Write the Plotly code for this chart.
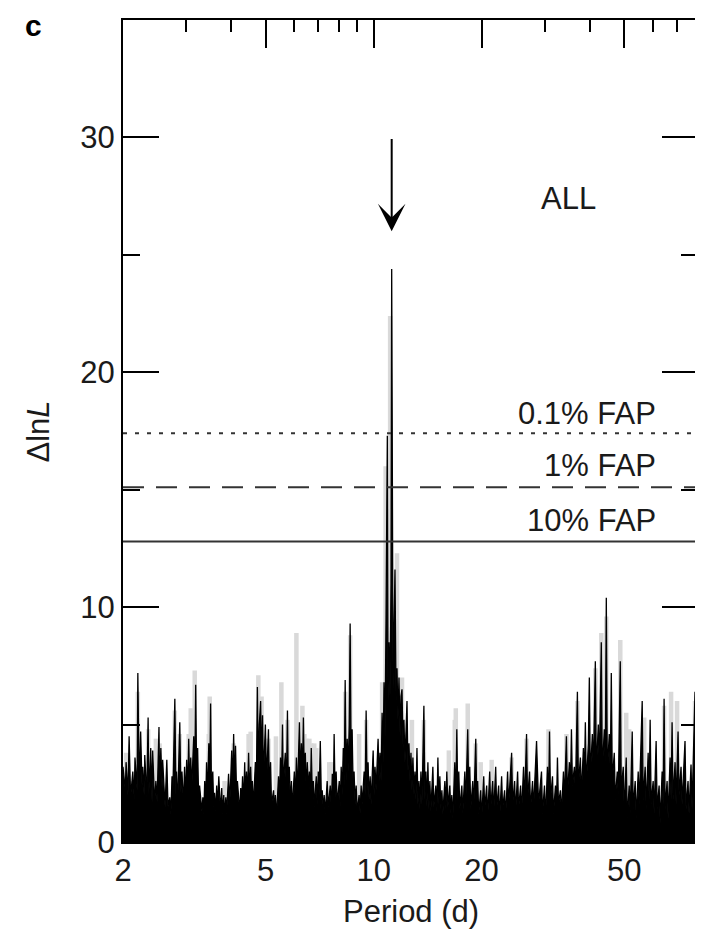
import math
import plotly.graph_objects as go

# ---------------- black periodogram (ALL) ----------------
period_a = [2.00, 2.03, 2.04, 2.065, 2.08, 2.10, 2.13, 2.15, 2.16, 2.19,
            2.20, 2.22, 2.24, 2.26, 2.27, 2.29, 2.30, 2.33, 2.35, 2.36,
            2.39, 2.41, 2.42, 2.45, 2.47, 2.49, 2.52, 2.53, 2.55, 2.57,
            2.58, 2.62, 2.65, 2.67, 2.70, 2.72, 2.74, 2.75, 2.79, 2.81,
            2.82, 2.84, 2.88, 2.90, 2.92, 2.95, 2.97, 2.99, 3.01, 3.03,
            3.05, 3.07, 3.09, 3.11, 3.15, 3.17, 3.19, 3.21, 3.23, 3.25,
            3.27, 3.32, 3.34, 3.36, 3.38, 3.40, 3.42, 3.44, 3.47, 3.49,
            3.51, 3.53, 3.56, 3.58, 3.60, 3.63, 3.65, 3.67, 3.70, 3.74,
            3.77, 3.79, 3.82, 3.84, 3.87, 3.89, 3.94, 3.97, 4.02, 4.04,
            4.07, 4.10, 4.12, 4.15, 4.17, 4.23, 4.26, 4.28, 4.31, 4.34,
            4.37, 4.39, 4.42, 4.45, 4.48, 4.51]
dlnl_a = [3.2, 2.2, 3.4, 2.0, 4.5, 1.9, 3.0, 1.8, 3.6, 2.2,
          7.2, 2.3, 4.7, 2.4, 3.2, 2.0, 3.7, 1.9, 5.3, 2.0,
          4.0, 1.7, 3.9, 1.6, 2.6, 1.7, 4.9, 2.2, 4.0, 2.3,
          3.5, 1.5, 3.5, 1.5, 1.9, 1.2, 2.8, 1.5, 6.1, 2.0,
          3.0, 1.5, 5.1, 2.1, 3.0, 1.6, 3.2, 1.8, 3.5, 2.0,
          4.4, 2.2, 3.6, 2.3, 4.5, 2.5, 6.7, 2.6, 4.0, 1.9,
          2.4, 1.3, 1.9, 1.2, 2.6, 1.4, 3.4, 1.8, 4.2, 2.1,
          5.9, 2.1, 3.0, 1.5, 2.1, 1.3, 2.4, 1.4, 2.8, 1.3,
          2.3, 1.2, 2.0, 1.1, 1.9, 1.2, 2.9, 1.6, 3.9, 2.0,
          4.6, 2.2, 4.1, 1.8, 2.6, 1.3, 2.3, 1.4, 2.8, 1.6,
          3.4, 1.8, 3.0, 1.9, 3.8, 2.0]

period_b = [4.54, 4.57, 4.59, 4.62, 4.68, 4.71, 4.74, 4.77, 4.80, 4.84,
            4.87, 4.90, 4.93, 4.99, 5.03, 5.09, 5.12, 5.16, 5.19, 5.26,
            5.29, 5.32, 5.36, 5.43, 5.46, 5.50, 5.53, 5.57, 5.60, 5.67,
            5.71, 5.75, 5.78, 5.82, 5.86, 5.90, 5.93, 6.01, 6.05, 6.09,
            6.13, 6.21, 6.25, 6.29, 6.33, 6.37, 6.41, 6.45, 6.49, 6.53,
            6.58, 6.62, 6.66, 6.70, 6.75, 6.79, 6.83, 6.92, 6.96, 7.01,
            7.05, 7.10, 7.15, 7.19, 7.24, 7.28, 7.33, 7.42, 7.47, 7.57,
            7.62, 7.67, 7.72, 7.76, 7.81, 7.86, 7.92, 8.02, 8.07, 8.12,
            8.17, 8.23, 8.28, 8.33, 8.38, 8.44, 8.49, 8.55, 8.60, 8.66,
            8.71, 8.77, 8.82, 8.88, 8.94, 9.00, 9.11, 9.17, 9.23, 9.29,
            9.41, 9.47, 9.53, 9.59, 9.65, 9.71, 9.78, 9.84, 9.97, 10.03,
            10.09, 10.16, 10.29, 10.36]
dlnl_b = [3.2, 1.8, 2.6, 1.5, 3.4, 2.4, 6.6, 3.0, 5.0, 6.0,
          3.2, 5.4, 2.8, 5.0, 2.6, 4.8, 2.2, 3.4, 1.6, 2.2,
          1.2, 2.0, 1.1, 2.8, 1.6, 3.6, 2.0, 5.0, 2.4, 3.8,
          2.2, 5.6, 2.4, 3.2, 1.6, 2.6, 1.4, 3.0, 1.7, 3.6,
          2.0, 5.1, 2.6, 4.2, 2.8, 5.3, 2.6, 3.8, 2.0, 3.4,
          2.2, 3.0, 1.8, 4.0, 1.8, 2.6, 1.5, 2.8, 1.6, 3.0,
          2.0, 4.3, 1.8, 2.2, 1.3, 2.0, 1.2, 2.6, 1.5, 2.4,
          1.4, 2.9, 1.7, 4.6, 1.9, 3.0, 1.6, 2.6, 1.5, 3.2,
          2.0, 4.0, 2.4, 6.9, 2.6, 4.4, 3.0, 5.0, 9.3, 3.0,
          4.8, 2.2, 3.0, 1.6, 2.4, 1.3, 2.0, 1.2, 2.4, 1.6,
          3.0, 2.0, 5.6, 2.2, 3.4, 1.8, 2.8, 1.6, 3.9, 2.0,
          3.2, 2.2, 4.4, 2.6]

period_c = [10.42, 10.49, 10.56, 10.63, 10.69, 10.76, 10.83, 10.92, 10.97, 11.04,
            11.11, 11.18, 11.23, 11.33, 11.40, 11.47, 11.55, 11.62, 11.69, 11.77,
            11.85, 11.92, 12.00, 12.08, 12.15, 12.23, 12.39, 12.47, 12.55, 12.63,
            12.71, 12.79, 12.87, 12.96, 13.04, 13.12, 13.21, 13.29, 13.38, 13.46,
            13.55, 13.64, 13.81, 13.90, 13.99, 14.08, 14.17, 14.26, 14.35, 14.44,
            14.63, 14.72, 14.91, 15.01, 15.11, 15.20]
dlnl_c = [3.8, 2.6, 5.5, 3.4, 6.8, 4.5, 9.6, 17.3, 6.0, 8.5,
          6.2, 11.0, 24.4, 6.5, 9.0, 11.6, 6.0, 7.4, 5.2, 7.0,
          4.5, 6.2, 6.5, 4.0, 5.2, 3.4, 6.0, 3.0, 4.2, 2.6,
          3.8, 2.2, 3.6, 2.0, 3.0, 1.8, 4.0, 1.6, 2.6, 1.4,
          3.0, 1.6, 5.8, 1.8, 3.0, 1.5, 3.4, 1.4, 2.6, 1.3,
          3.2, 1.5, 2.4, 1.3, 3.6, 1.6]

period_d = [15.30, 15.40, 15.50, 15.60, 15.80, 15.90, 16.00, 16.11, 16.31, 16.42,
            16.52, 16.63, 16.84, 16.95, 17.06, 17.17, 17.28, 17.39, 17.62, 17.73,
            17.96, 18.07, 18.30, 18.42, 18.54, 18.66, 18.90, 19.02, 19.27, 19.39,
            19.51, 19.64, 19.89, 20.02, 20.28, 20.41, 20.67, 20.80, 21.07, 21.21,
            21.48, 21.62, 21.90, 22.04, 22.32, 22.47, 22.75, 22.90, 23.19, 23.34,
            23.64, 23.80, 24.26, 24.42, 24.73, 24.89, 25.21, 25.37, 25.70, 25.86,
            26.19, 26.36, 26.70, 26.87, 27.22, 27.40, 27.75, 27.93, 28.47, 28.84]
dlnl_d = [2.8, 1.4, 2.2, 1.2, 2.6, 1.4, 3.0, 1.5, 2.4, 1.2,
          2.0, 1.0, 3.4, 1.6, 4.8, 1.8, 3.0, 1.4, 2.4, 1.2,
          3.0, 1.6, 4.8, 2.0, 3.2, 1.4, 2.6, 1.4, 4.4, 1.8,
          2.6, 1.2, 2.2, 1.0, 2.8, 1.4, 2.4, 1.0, 3.0, 1.4,
          2.6, 1.2, 3.2, 1.4, 2.4, 1.0, 2.8, 1.4, 2.2, 1.0,
          3.0, 1.6, 3.8, 1.6, 2.6, 1.2, 3.0, 1.4, 2.4, 1.2,
          3.2, 1.6, 4.6, 1.8, 3.0, 1.4, 2.6, 1.4, 4.3, 1.6]

period_e = [29.39, 29.58, 29.96, 30.16, 30.54, 30.74, 30.94, 31.14, 31.54, 31.74,
            32.15, 32.35, 32.56, 32.77, 33.19, 33.41, 33.84, 34.05, 34.49, 34.71,
            35.16, 35.39, 35.62, 35.85, 36.30, 36.54, 37.01, 37.25, 37.73, 37.97,
            38.46, 38.70, 38.95, 39.20, 39.71, 39.96, 40.22, 40.74, 41.00, 41.53,
            41.79, 42.33, 42.60, 43.15, 43.43, 43.99, 44.27, 44.56, 44.84, 45.42,
            45.71, 46.01, 46.31, 46.90, 47.20, 47.81, 48.12, 48.74, 49.05, 49.68,
            50.00, 50.64, 50.97, 51.62, 51.96, 52.63, 52.96, 53.64, 53.99, 54.69,
            55.04, 56.11, 56.46, 57.19, 57.56, 58.30, 58.67, 59.05, 59.43, 60.20,
            60.58, 61.36, 61.76, 62.55, 62.96, 63.77, 64.17, 64.58, 65.00, 65.84,
            66.26, 67.12, 67.55, 67.98, 68.41, 69.30, 69.74, 70.64, 71.09, 72.01,
            72.48, 73.87, 74.35, 75.31, 75.79, 76.77, 77.27, 78.76, 79.26, 80.29]
dlnl_e = [3.0, 1.2, 2.4, 1.0, 3.2, 1.4, 4.7, 1.8, 2.8, 1.2,
          2.4, 1.4, 3.6, 1.6, 2.2, 1.2, 3.0, 1.8, 4.5, 2.0,
          3.4, 2.2, 4.8, 2.4, 3.2, 2.0, 6.4, 2.4, 3.6, 2.0,
          4.0, 2.6, 5.1, 2.4, 4.2, 7.0, 2.8, 4.6, 3.0, 7.7,
          3.0, 5.0, 3.2, 8.5, 3.0, 4.8, 3.4, 10.4, 3.0, 4.6,
          2.8, 7.2, 2.6, 3.8, 1.8, 3.0, 2.0, 7.7, 2.2, 3.2,
          1.2, 3.6, 1.0, 2.4, 1.2, 4.7, 1.4, 2.6, 1.0, 3.0,
          1.6, 6.0, 1.8, 3.2, 1.4, 3.8, 1.8, 5.2, 1.6, 2.6,
          1.2, 4.3, 1.4, 2.4, 0.8, 3.0, 1.6, 6.1, 1.4, 2.6,
          1.0, 3.6, 1.8, 5.1, 1.8, 3.4, 1.6, 4.7, 2.0, 3.2,
          1.6, 4.3, 1.4, 2.6, 1.2, 3.3, 1.4, 6.4, 2.2, 2.8]

# ---------------- grey periodogram peaks (drawn behind) ----------------
gray_period = [2.04, 2.10, 2.20, 2.35, 2.47, 2.53, 2.79, 2.88, 3.05, 3.09,
               3.17, 3.47, 3.49, 3.84, 4.07, 4.48, 4.54, 4.77, 4.87, 5.09,
               5.34, 5.53, 5.75, 6.09, 6.33, 6.41, 6.49, 6.62, 6.70, 6.83,
               6.92, 7.52, 7.62, 8.33, 8.60, 9.11, 9.53, 10.56, 10.80, 11.12,
               11.47, 11.62, 12.00, 12.79, 13.81, 16.21, 16.84, 16.95, 18.30, 19.27,
               19.89, 21.34, 24.26, 26.70, 30.74, 34.49, 37.01, 41.53, 43.15, 44.56,
               48.74, 50.64, 51.62, 56.83, 64.58, 67.55, 70.19, 78.76]
gray_dlnl = [3.8, 2.6, 6.4, 4.8, 4.4, 4.2, 5.6, 4.6, 4.6, 5.7,
             7.3, 4.6, 6.2, 2.6, 4.2, 4.6, 4.7, 7.1, 6.2, 4.4,
             4.5, 6.8, 5.2, 8.9, 5.8, 4.6, 4.4, 4.4, 4.2, 4.2,
             4.0, 3.4, 3.4, 6.4, 8.8, 4.6, 5.2, 6.8, 16.0, 22.4,
             9.0, 12.3, 7.0, 5.2, 5.2, 3.9, 5.2, 5.7, 5.9, 4.2,
             3.4, 3.5, 3.6, 4.4, 4.8, 4.6, 6.0, 7.4, 8.9, 9.6,
             8.6, 5.5, 4.8, 5.3, 5.8, 6.4, 6.0, 6.0]

# ---------------- reference levels & annotations ----------------
fap_levels = [17.4, 15.1, 12.8]
fap_labels = ["0.1% FAP", "1% FAP", "10% FAP"]
fap_dash = ["4px,8px", "21px,12px", "solid"]
fap_label_y = [18.25, 16.05, 13.7]
fap_label_period = 62.0
peak_period = 11.23
arrow_top = 30.0
arrow_tip = 26.0
all_label = ("ALL", 34.9, 27.4)

x_range = [2.0, 80.29]
y_range = [0, 35]
x_tickvals = [2, 5, 10, 20, 50]
x_minor = [3, 4, 6, 7, 8, 9, 30, 40, 60, 70]
y_tickvals = [0, 10, 20, 30]
y_minor = [5, 15, 25]

# ---------------------------------------------------------------
black_x = period_a + period_b + period_c + period_d + period_e
black_y = dlnl_a + dlnl_b + dlnl_c + dlnl_d + dlnl_e
assert len(black_x) == len(black_y)
assert len(gray_period) == len(gray_dlnl)

gx, gy = [], []
for p, v in zip(gray_period, gray_dlnl):
    gx += [p, p, None]
    gy += [0, v, None]

FONT = "Liberation Sans, Arial, Helvetica, sans-serif"

fig = go.Figure()
fig.add_trace(go.Scatter(x=gx, y=gy, mode="lines",
                         line=dict(color="#d9d9d9", width=4.5),
                         hoverinfo="skip", showlegend=False))
fig.add_trace(go.Scatter(x=black_x, y=black_y, mode="lines",
                         line=dict(color="black", width=1.3),
                         fill="tozeroy", fillcolor="black",
                         showlegend=False))

for lvl, dash in zip(fap_levels, fap_dash):
    fig.add_shape(type="line", xref="paper", x0=0, x1=1, yref="y", y0=lvl, y1=lvl,
                  line=dict(color="#333333", width=2, dash=dash), layer="above")

anns = []
for lab, ly in zip(fap_labels, fap_label_y):
    anns.append(dict(x=math.log10(fap_label_period), y=ly, xref="x", yref="y",
                     text=lab, showarrow=False, xanchor="right", yanchor="middle",
                     font=dict(size=31, color="#1a1a1a", family=FONT)))
anns.append(dict(x=math.log10(all_label[1]), y=all_label[2], xref="x", yref="y",
                 text=all_label[0], showarrow=False, xanchor="center", yanchor="middle",
                 font=dict(size=31, color="#1a1a1a", family=FONT)))
anns.append(dict(x=math.log10(peak_period), y=arrow_tip, xref="x", yref="y",
                 ax=math.log10(peak_period), ay=arrow_top, axref="x", ayref="y",
                 text="", showarrow=True, arrowhead=3, arrowsize=2.3, arrowwidth=2,
                 arrowcolor="black"))
anns.append(dict(x=-0.147, y=0.5, xref="paper", yref="paper", text="Δln<i>L</i>",
                 showarrow=False, textangle=-90, xanchor="center", yanchor="middle",
                 font=dict(size=31, color="#1a1a1a", family=FONT)))
anns.append(dict(x=0.5, y=-0.085, xref="paper", yref="paper", text="Period (d)",
                 showarrow=False, xanchor="center", yanchor="middle",
                 font=dict(size=31, color="#1a1a1a", family=FONT)))
# panel letter, anchored at the very top of the figure so it is not clipped
anns.append(dict(x=-0.156, y=1.0 + 12 / 822, xref="paper", yref="paper", text="<b>c</b>",
                 showarrow=False, xanchor="center", yanchor="top", borderpad=0,
                 font=dict(size=30, color="black", family=FONT)))

# the page body adds an 8 px margin, so the figure is 8 px smaller on each side
fig.update_layout(
    width=695, height=927,
    margin=dict(l=115, r=3, t=12, b=93),
    paper_bgcolor="white", plot_bgcolor="white",
    font=dict(family=FONT, size=31, color="#1a1a1a"),
    annotations=anns,
    showlegend=False,
)
fig.update_xaxes(type="log", range=[math.log10(x_range[0]), math.log10(x_range[1])],
                 tickmode="array", tickvals=x_tickvals, ticktext=[str(v) for v in x_tickvals],
                 ticks="inside", ticklen=28, tickwidth=2, tickcolor="black",
                 minor=dict(tickmode="array", tickvals=x_minor, ticks="inside", ticklen=12,
                            tickwidth=2, tickcolor="black"),
                 showline=True, linewidth=2, linecolor="black", mirror="ticks",
                 showgrid=False, zeroline=False, tickfont=dict(size=31, family=FONT))
fig.update_yaxes(range=y_range, tickmode="array", tickvals=y_tickvals,
                 ticks="inside", ticklen=36, tickwidth=2, tickcolor="black",
                 minor=dict(tickmode="array", tickvals=y_minor, ticks="inside", ticklen=17,
                            tickwidth=2, tickcolor="black"),
                 showline=True, linewidth=2, linecolor="black", mirror="ticks",
                 showgrid=False, zeroline=False, tickfont=dict(size=31, family=FONT))

fig.write_html("out.html")
